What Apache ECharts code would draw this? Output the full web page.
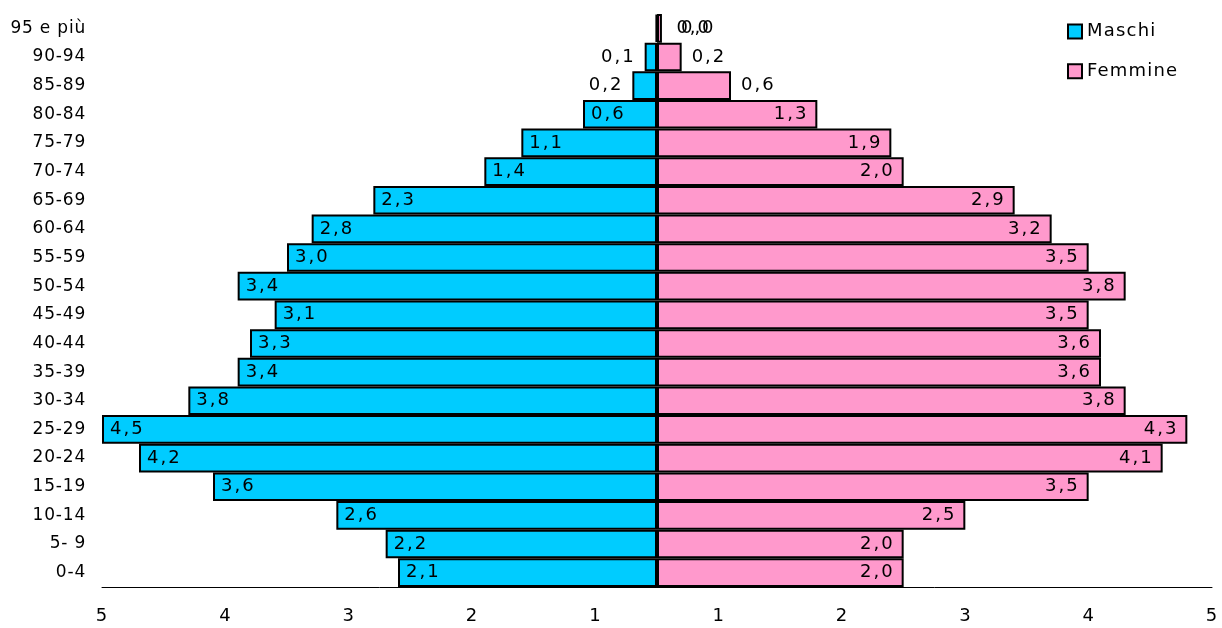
<!DOCTYPE html>
<html>
<head>
<meta charset="utf-8">
<script src="https://cdn.jsdelivr.net/npm/echarts@6/dist/echarts.min.js"></script>
<style>
  html, body { margin: 0; padding: 0; background: #ffffff; }
  #chart { width: 1222px; height: 628px; }
</style>
</head>
<body>
<div id="chart"></div>
<script>
// Age classes, from youngest (bottom) to oldest (top)
const categories = ['0-4', '5- 9', '10-14', '15-19', '20-24', '25-29', '30-34', '35-39', '40-44', '45-49',
  '50-54', '55-59', '60-64', '65-69', '70-74', '75-79', '80-84', '85-89', '90-94', '95 e più'];

// Share of population (%) by sex
const maschi = [2.1, 2.2, 2.6, 3.6, 4.2, 4.5, 3.8, 3.4, 3.3, 3.1, 3.4, 3.0, 2.8, 2.3, 1.4, 1.1, 0.6, 0.2, 0.1, 0.01];
const femmine = [2.0, 2.0, 2.5, 3.5, 4.1, 4.3, 3.8, 3.6, 3.6, 3.5, 3.8, 3.5, 3.2, 2.9, 2.0, 1.9, 1.3, 0.6, 0.2, 0.04];

// Bottom axis labels, one per tick from left to right
const tickLabels = ['5', '4', '3', '2', '1', '1', '2', '3', '4', '5'];

const FONT = 'DejaVu Sans';
const fmt = v => Math.abs(v).toFixed(1).replace('.', ',');

// Slightly wider letter spacing for the chart's texts (applied both when measuring
// and drawing, so alignment stays consistent)
(function () {
  const proto = CanvasRenderingContext2D.prototype;
  if (!('letterSpacing' in proto)) return;
  const spacingFor = t => {
    t = String(t);
    if (t.indexOf(',') >= 0) return '2px';
    if (t === 'Maschi' || t === 'Femmine') return '1.2px';
    return '0.8px';
  };
  const origFill = proto.fillText;
  const origMeasure = proto.measureText;
  proto.fillText = function (t, x, y, maxW) {
    this.letterSpacing = spacingFor(t);
    return maxW === undefined ? origFill.call(this, t, x, y) : origFill.call(this, t, x, y, maxW);
  };
  proto.measureText = function (t) {
    this.letterSpacing = spacingFor(t);
    return origMeasure.call(this, t);
  };
})();

const last = categories.length - 1;

const maschiData = maschi.map((v, i) => {
  const item = { value: -v };
  if (i === last) {
    item.label = { position: 'right', distance: 19 };
  } else if (v < 0.5) {
    item.label = { position: 'left', distance: 9 };
  }
  return item;
});

const femmineData = femmine.map((v, i) => {
  const item = { value: v };
  if (i === last) {
    item.label = { position: 'right', distance: 19 };
  } else if (v < 1) {
    item.label = { position: 'right', distance: 10 };
  }
  return item;
});

const chart = echarts.init(document.getElementById('chart'), null, { renderer: 'canvas' });

chart.setOption({
  animation: false,
  backgroundColor: '#ffffff',
  textStyle: { fontFamily: FONT, color: '#000' },
  legend: {
    orient: 'vertical',
    left: 1062,
    top: 17,
    icon: 'rect',
    itemWidth: 14,
    itemHeight: 14,
    itemGap: 21,
    textStyle: { fontFamily: FONT, fontSize: 18, color: '#000', padding: [0, 0, 0, 0] },
    data: [
      { name: 'Maschi', itemStyle: { color: '#00CCFF', borderColor: '#000', borderWidth: 2 } },
      { name: 'Femmine', itemStyle: { color: '#FF99CC', borderColor: '#000', borderWidth: 2 } }
    ]
  },
  grid: { left: 102, right: 10, top: 14, bottom: 41, containLabel: false },
  xAxis: {
    type: 'value',
    min: -4.5,
    max: 4.5,
    interval: 1,
    axisLine: { show: true, lineStyle: { color: '#000', width: 1 } },
    axisTick: { show: false },
    splitLine: { show: false },
    axisLabel: {
      fontFamily: FONT,
      fontSize: 18,
      color: '#000',
      margin: 20,
      formatter: v => tickLabels[Math.round(v + 4.5)]
    }
  },
  yAxis: {
    type: 'category',
    data: categories,
    axisLine: { show: false },
    axisTick: { show: false },
    splitLine: { show: false },
    axisLabel: { fontFamily: FONT, fontSize: 17, color: '#000', margin: 16 }
  },
  series: [
    {
      name: 'Maschi',
      type: 'bar',
      data: maschiData,
      barGap: '-100%',
      barCategoryGap: '0%',
      itemStyle: { color: '#00CCFF', borderColor: '#000', borderWidth: 2 },
      label: {
        show: true,
        position: 'insideLeft',
        distance: 8,
        fontFamily: FONT,
        fontSize: 18,
        color: '#000',
        formatter: p => fmt(p.value)
      }
    },
    {
      name: 'Femmine',
      type: 'bar',
      data: femmineData,
      barGap: '-100%',
      barCategoryGap: '0%',
      itemStyle: { color: '#FF99CC', borderColor: '#000', borderWidth: 2 },
      label: {
        show: true,
        position: 'insideRight',
        distance: 9,
        fontFamily: FONT,
        fontSize: 18,
        color: '#000',
        formatter: p => fmt(p.value)
      }
    }
  ]
});
</script>
</body>
</html>
